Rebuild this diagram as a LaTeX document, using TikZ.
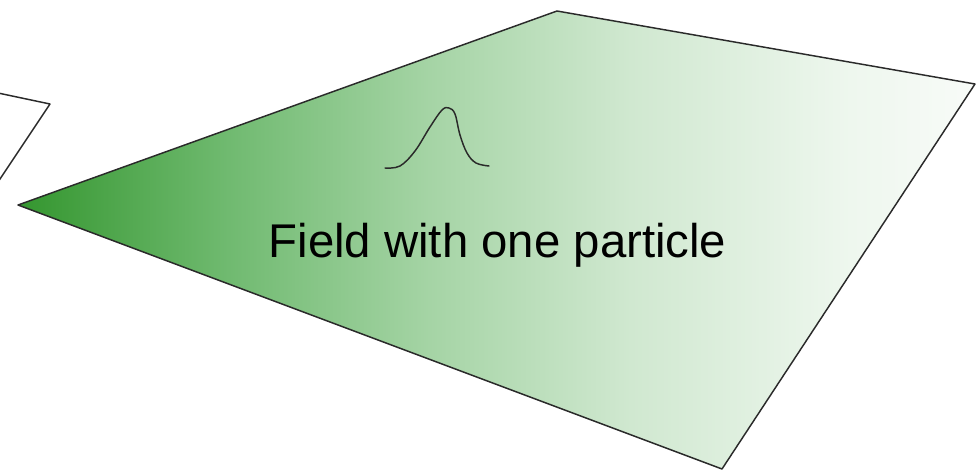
\documentclass[tikz,border=0pt]{standalone}
\usepackage{fontspec}
\setmainfont{Liberation Sans}
\definecolor{ink}{HTML}{2A2A2A}
\definecolor{leaf0}{RGB}{52,150,47}
\definecolor{leaf1}{RGB}{112,186,112}
\definecolor{leaf2}{RGB}{165,212,165}
\definecolor{leaf3}{RGB}{208,232,208}
\definecolor{leaf4}{RGB}{238,247,238}
\definecolor{leaf5}{RGB}{248,251,248}
\pgfdeclarehorizontalshading{fieldfade}{100bp}{
  color(0bp)=(leaf0); color(25bp)=(leaf0); color(36bp)=(leaf1);
  color(46.5bp)=(leaf2); color(57bp)=(leaf3); color(68.5bp)=(leaf4);
  color(75bp)=(leaf5); color(100bp)=(leaf5)}

\begin{document}
\begin{tikzpicture}[x=0.75pt,y=-0.75pt,line join=round,
  edge/.style={draw=ink,line width=1.1pt}]
  \useasboundingbox (0,0) rectangle (976,471);

  % Neighbouring field, cut off at the left
  \coordinate (n1) at (-2,93);
  \coordinate (n2) at (50,104);
  \coordinate (n3) at (-2,182);
  \draw[edge] (n1)--(n2)--(n3);

  % Field sheet
  \coordinate (W) at (18,205);
  \coordinate (N) at (557,11);
  \coordinate (E) at (975,84);
  \coordinate (S) at (722,469);
  \shade[shading=fieldfade] (W)--(N)--(E)--(S)--cycle;
  \draw[edge] (W)--(N)--(E)--(S)--cycle;

  % Particle bump
  \draw[ink,line width=1.1pt,line cap=round] plot[smooth,tension=.6]
    coordinates {(385,168) (400,166) (415,151) (430,127) (442,110)
      (449,108) (455,114) (460,135) (467,153) (476,163) (489,166)};

  \node[anchor=base,font=\fontsize{35.5}{42}\selectfont,inner sep=0pt]
    (label) at (497.5,257) {Field with one particle};
\end{tikzpicture}
\end{document}
